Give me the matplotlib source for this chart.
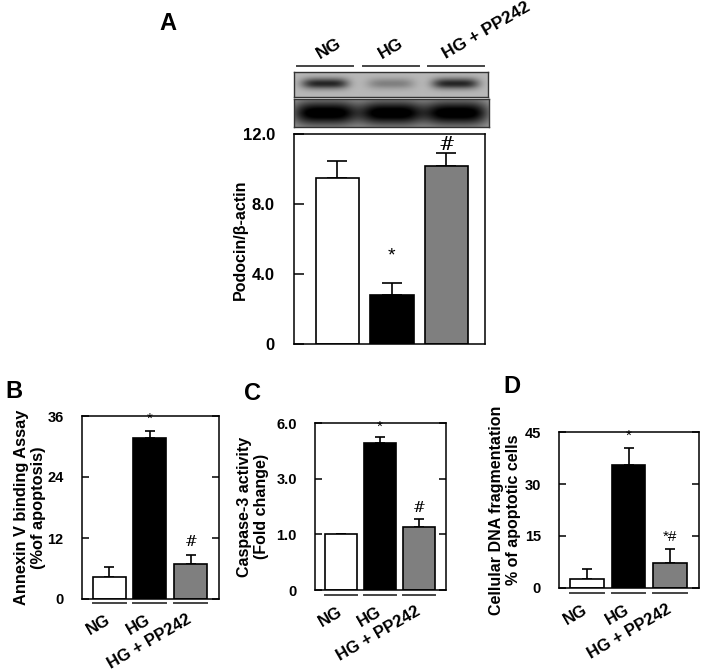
import numpy as np
import matplotlib
matplotlib.use("Agg")
import matplotlib.pyplot as plt

plt.rcParams['font.family'] = ['Liberation Sans', 'DejaVu Sans']
plt.rcParams['font.weight'] = 'bold'

W, H = 702, 671

groups = ["NG", "HG", "HG + PP242"]
bar_colors = ["white", "black", "#7f7f7f"]

# panel A - podocin / beta-actin
podocin = [9.5, 2.8, 10.2]
podocin_err = [1.0, 0.7, 0.75]
podocin_marks = ["", "*", "#"]
podocin_mark_y = [0, 5.05, 11.4]

# western blot band strength (0..1) per lane
podocin_bands = [0.58, 0.22, 0.58]
actin_bands = [0.72, 0.72, 0.72]

# panel B - annexin V
annexin = [4.3, 31.6, 6.8]
annexin_err = [2.0, 1.4, 1.8]
annexin_marks = ["", "*", "#"]
annexin_mark_y = [0, 35.5, 11.3]

# panel C - caspase-3
caspase = [1.0, 4.92, 1.25]
caspase_err = [0.0, 0.36, 0.29]
caspase_marks = ["", "*", "#"]
caspase_mark_y = [0, 5.82, 1.96]
caspase_ticks = [0, 1, 3, 6]
caspase_ticklabels = ["0", "1.0", "3.0", "6.0"]

# panel D - DNA fragmentation
dna = [2.5, 35.5, 7.1]
dna_err = [2.8, 5.0, 4.1]
dna_marks = ["", "*", "*#"]
dna_mark_y = [0, 43.9, 14.6]


def box(l, t, r, b):
    return [l / W, 1 - b / H, (r - l) / W, (b - t) / H]


def fpos(x, y):
    return x / W, 1 - y / H


def style_axes(ax, right_ticks=True, labelsize=10.5, ticklen=5, pad=13):
    for s in ax.spines.values():
        s.set_linewidth(1.1)
    ax.tick_params(axis='y', direction='in', length=ticklen, width=1.1,
                   labelsize=labelsize, pad=pad, right=right_ticks)
    ax.tick_params(axis='x', bottom=False, labelbottom=False)
    for lab in ax.get_yticklabels():
        lab.set_fontweight('bold')


def draw_bars(ax, vals, errs, marks, mark_y, width, capsize, marksize):
    x = np.arange(len(vals))
    ax.bar(x, vals, width=width, color=bar_colors, edgecolor='black',
           linewidth=1.2, zorder=2)
    ax.errorbar(x, vals, yerr=[np.zeros(len(errs)), errs], fmt='none',
                ecolor='black', elinewidth=1.2, capsize=capsize, capthick=1.2,
                zorder=1)
    for xi, m, my in zip(x, marks, mark_y):
        if m:
            ax.text(xi, my, m, ha='center', va='center', fontsize=marksize,
                    fontweight='normal', family=['DejaVu Serif'] if m == '#' else None)


def group_lines(ax, width, offset_px, ax_h_px):
    tr = ax.get_xaxis_transform()
    yy = -offset_px / ax_h_px
    for xi in range(3):
        ax.plot([xi - width / 2, xi + width / 2], [yy, yy], color='#444444',
                lw=1.4, transform=tr, clip_on=False)


def group_labels(ax, ax_h_px, offset_px):
    tr = ax.get_xaxis_transform()
    yy = -offset_px / ax_h_px
    for xi, g in enumerate(groups):
        ax.text(xi - 0.1, yy, g, rotation=30, rotation_mode='anchor', ha='right',
                va='top', fontsize=12, fontweight='bold', transform=tr)


fig = plt.figure(figsize=(W / 100, H / 100), dpi=100)

# ---------- panel A ----------
axA = fig.add_axes(box(294.3, 134.3, 485, 344.3))
draw_bars(axA, podocin, podocin_err, podocin_marks, podocin_mark_y, 0.8, 7, 14)
axA.set_xlim(-0.79, 2.71)
axA.set_ylim(0, 12)
axA.set_yticks([0, 4, 8, 12])
axA.set_yticklabels(["0", "4.0", "8.0", "12.0"])
style_axes(axA, right_ticks=False, labelsize=12, ticklen=7, pad=14)
axA.set_ylabel("Podocin/β-actin", fontsize=11.5, fontweight='bold')
axA.yaxis.set_label_coords(-0.245, 0.5)

lane_x = [0.159, 0.499, 0.834]


def blot_image(strength, sx, sy, cy, bg, nx=200, ny=30):
    xs = np.linspace(0, 1, nx)
    ys = np.linspace(0, 1, ny)
    X, Y = np.meshgrid(xs, ys)
    img = np.full_like(X, bg)
    for cx, d in zip(lane_x, strength):
        img -= d * np.exp(-(np.abs(X - cx) / sx) ** 4 - (np.abs(Y - cy) / sy) ** 2)
    return np.clip(img, 0, 1)


for (t, b, r), bands, sx, sy, cy, bg in [
        ((71.7, 96.7, 488.3), podocin_bands, 0.12, 0.22, 0.46, 0.72),
        ((99.3, 127.3, 489.3), actin_bands, 0.165, 0.45, 0.5, 0.64)]:
    axb = fig.add_axes(box(294.3, t, r, b))
    axb.imshow(blot_image(bands, sx, sy, cy, bg), cmap='gray', vmin=0, vmax=1,
               aspect='auto', extent=[0, 1, 1, 0], interpolation='bilinear')
    axb.set_xticks([])
    axb.set_yticks([])
    for s in axb.spines.values():
        s.set_linewidth(1.0)
        s.set_color('#333333')

seg_px = [(297.3, 353.3), (363.3, 419.3), (428.3, 484.3)]
start_px = [320, 382, 446]
for (x0, x1), xs, g in zip(seg_px, start_px, groups):
    fig.add_artist(plt.Line2D([x0 / W, x1 / W], [1 - 66 / H, 1 - 66 / H],
                              color='#444444', lw=1.4))
    fig.text(*fpos(xs, 59), g, rotation=30, rotation_mode='anchor', ha='left',
             va='baseline', fontsize=12.5, fontweight='bold')

fig.text(*fpos(168, 24), "A", fontsize=17, fontweight='bold', ha='center', va='center')

# ---------- panels B, C, D ----------
xl = (-0.67, 2.69)
bw = 0.81

axB = fig.add_axes(box(81.7, 416, 219, 599))
draw_bars(axB, annexin, annexin_err, annexin_marks, annexin_mark_y, bw, 3.8, 11)
axB.set_xlim(*xl)
axB.set_ylim(0, 36)
axB.set_yticks([0, 12, 24, 36])
style_axes(axB)
axB.set_ylabel("Annexin V binding Assay\n(%of apoptosis)", fontsize=11.8,
               fontweight='bold', linespacing=1.15)
axB.yaxis.set_label_coords(-0.26, 0.5)
group_lines(axB, bw, 4, 183)
group_labels(axB, 183, 13)
fig.text(*fpos(14, 391), "B", fontsize=17, fontweight='bold', ha='center', va='center')

axC = fig.add_axes(box(315, 423.3, 445.7, 590))


def c_fwd(v):
    return np.interp(v, caspase_ticks, [0, 1, 2, 3], right=np.nan)


def c_inv(p):
    return np.interp(p, [0, 1, 2, 3], caspase_ticks)


axC.set_yscale('function', functions=(c_fwd, c_inv))
draw_bars(axC, caspase, caspase_err, caspase_marks, caspase_mark_y, bw, 3.8, 11)
axC.set_xlim(*xl)
axC.set_ylim(0, 6)
axC.set_yticks(caspase_ticks)
axC.set_yticklabels(caspase_ticklabels)
axC.minorticks_off()
style_axes(axC)
axC.set_ylabel("Caspase-3 activity\n(Fold change)", fontsize=11.5,
               fontweight='bold', linespacing=1.15)
axC.yaxis.set_label_coords(-0.35, 0.5)
group_lines(axC, bw, 5, 167)
group_labels(axC, 167, 14)
fig.text(*fpos(253, 393), "C", fontsize=17, fontweight='bold', ha='center', va='center')

axD = fig.add_axes(box(559, 432.3, 699, 587.7))
draw_bars(axD, dna, dna_err, dna_marks, dna_mark_y, bw, 3.8, 11)
axD.set_xlim(*xl)
axD.set_ylim(0, 45)
axD.set_yticks([0, 15, 30, 45])
style_axes(axD)
axD.set_ylabel("Cellular DNA fragmentation\n% of apoptotic cells", fontsize=11.5,
               fontweight='bold', linespacing=1.15)
axD.yaxis.set_label_coords(-0.27, 0.5)
group_lines(axD, bw, 5, 155)
group_labels(axD, 155, 14)
fig.text(*fpos(512, 386), "D", fontsize=17, fontweight='bold', ha='center', va='center')

fig.savefig("out.png", dpi=100)
